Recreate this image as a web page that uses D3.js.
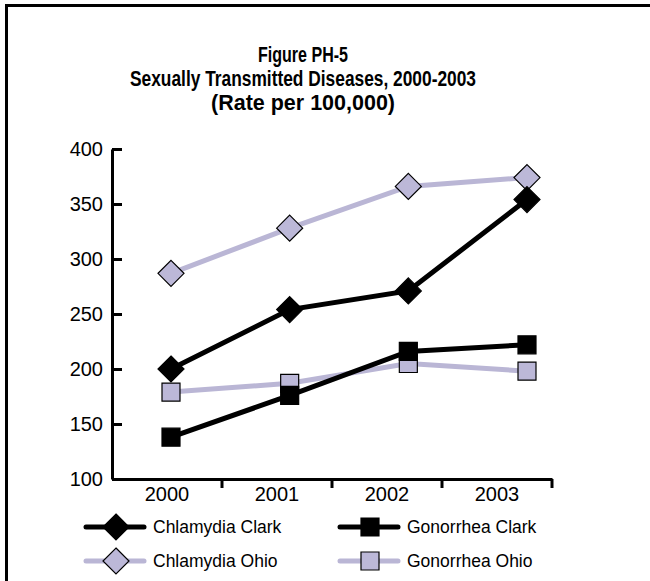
<!DOCTYPE html>
<html>
<head>
<meta charset="utf-8">
<script src="https://cdn.jsdelivr.net/npm/d3@7"></script>
<style>
  body { margin: 0; background: #fff; }
  svg { display: block; font-family: Arial, "Liberation Sans", sans-serif; }
</style>
</head>
<body>
<div id="root"></div>
<script>
const years = ['2000', '2001', '2002', '2003'];
const chlamydiaClark = [200, 254, 271, 354];
const gonorrheaClark = [138, 176, 216, 222];
const chlamydiaOhio = [287, 328, 366, 374];
const gonorrheaOhio = [179, 187, 205, 198];
const yTicks = [100, 150, 200, 250, 300, 350, 400];
const titleLines = ['Figure PH-5', 'Sexually Transmitted Diseases, 2000-2003', '(Rate per 100,000)'];

const width = 650, height = 581;
const black = '#000';
const lav = '#bab6d5';
const lavFill = '#bcb8d8';

const series = [
  { name: 'Chlamydia Clark', values: chlamydiaClark, color: black, fill: black, shape: 'diamond' },
  { name: 'Gonorrhea Clark', values: gonorrheaClark, color: black, fill: black, shape: 'square' },
  { name: 'Chlamydia Ohio', values: chlamydiaOhio, color: lav, fill: lavFill, shape: 'diamond' },
  { name: 'Gonorrhea Ohio', values: gonorrheaOhio, color: lav, fill: lavFill, shape: 'square' }
];

const svg = d3.select('#root').append('svg')
  .attr('width', width).attr('height', height);

// frame (top + left edges only)
svg.append('path')
  .attr('d', 'M6.5,650 V5.5 H650')
  .attr('fill', 'none').attr('stroke', black).attr('stroke-width', 3);

// title
const titleY = [62, 86, 110];
const titleW = [90, 346, 184];
svg.append('g').selectAll('text').data(titleLines).join('text')
  .attr('x', 303)
  .attr('y', (d, i) => titleY[i])
  .attr('text-anchor', 'middle')
  .attr('font-size', 22.5).attr('font-weight', 'bold')
  .attr('textLength', (d, i) => titleW[i])
  .attr('lengthAdjust', 'spacingAndGlyphs')
  .text(d => d);

const xBand = d3.scaleBand().domain(years).range([112, 552]);
const xPt = d3.scalePoint().domain(years).range([171, 527]);
const y = d3.scaleLinear().domain([100, 400]).range([479, 149]);

// y axis
const yAxis = svg.append('g').attr('transform', 'translate(112,0)')
  .call(d3.axisLeft(y).tickValues(yTicks).tickSizeInner(-10).tickSizeOuter(0).tickPadding(9));
yAxis.select('.domain').attr('stroke-width', 3);
yAxis.selectAll('.tick line').attr('stroke-width', 3);
yAxis.selectAll('text').attr('font-size', 20).attr('font-family', 'Arial, "Liberation Sans", sans-serif').attr('fill', black);

// x axis
const xAxis = svg.append('g').attr('transform', 'translate(0,479)')
  .call(d3.axisBottom(xBand).tickSize(0).tickPadding(8));
xAxis.select('.domain').attr('stroke-width', 3);
xAxis.selectAll('text').attr('font-size', 20).attr('font-family', 'Arial, "Liberation Sans", sans-serif').attr('fill', black);
xAxis.selectAll('.sep').data(years).join('line')
  .attr('class', 'sep')
  .attr('x1', d => xBand(d) + xBand.bandwidth()).attr('x2', d => xBand(d) + xBand.bandwidth())
  .attr('y1', 0).attr('y2', 9)
  .attr('stroke', black).attr('stroke-width', 3);

const diamond = 'M0,-13 L13,0 L0,13 L-13,0 Z';
const square = 'M-9,-9 H9 V9 H-9 Z';

const line = d3.line().x((d, i) => xPt(years[i])).y(d => y(d));

const drawOrder = [series[2], series[3], series[1], series[0]];
drawOrder.forEach(s => {
  const g = svg.append('g');
  g.append('path').attr('d', line(s.values))
    .attr('fill', 'none').attr('stroke', s.color).attr('stroke-width', 5);
  g.selectAll('path.m').data(s.values).join('path')
    .attr('class', 'm')
    .attr('d', s.shape === 'diamond' ? diamond : square)
    .attr('transform', (d, i) => `translate(${xPt(years[i])},${y(d)})`)
    .attr('fill', s.fill).attr('stroke', black).attr('stroke-width', 1.2);
});

// legend
const legPos = [[86, 527], [340, 527], [86, 561], [340, 561]];
series.forEach((s, i) => {
  const [lx, ly] = legPos[i];
  const g = svg.append('g').attr('transform', `translate(${lx},${ly})`);
  g.append('line').attr('x1', 0).attr('x2', 58).attr('y1', 0).attr('y2', 0)
    .attr('stroke', s.color).attr('stroke-width', 5).attr('stroke-linecap', 'round');
  g.append('path').attr('d', s.shape === 'diamond' ? diamond : square)
    .attr('transform', 'translate(30,0)')
    .attr('fill', s.fill).attr('stroke', black).attr('stroke-width', 1.2);
  g.append('text').attr('x', 67).attr('y', 6)
    .attr('font-size', 17.5).text(s.name);
});
</script>
</body>
</html>
